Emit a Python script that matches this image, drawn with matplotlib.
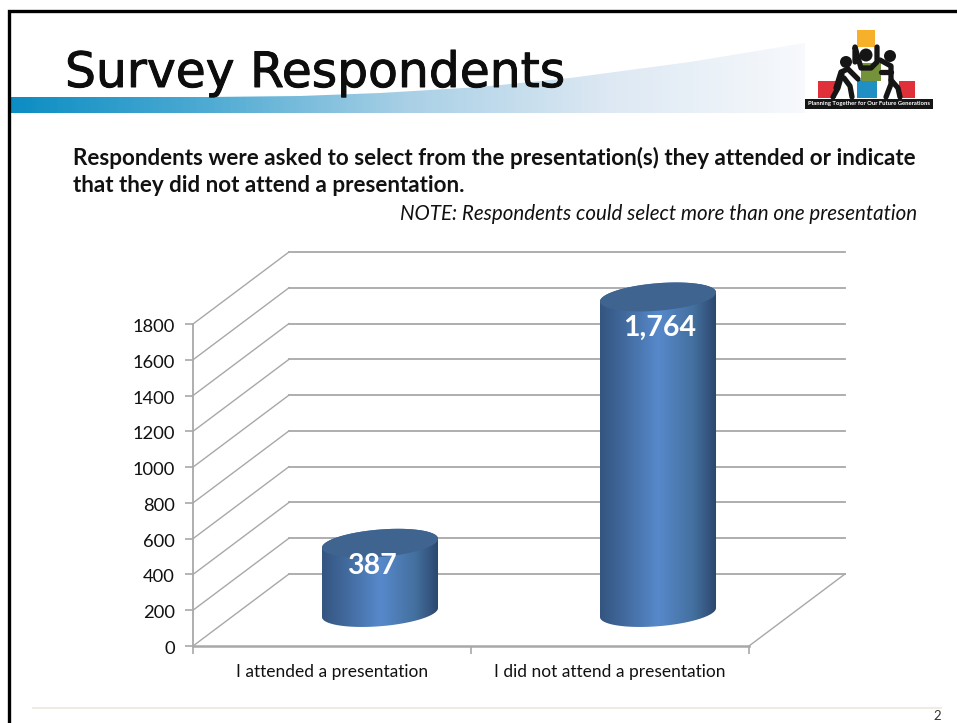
import numpy as np
import matplotlib
matplotlib.use('Agg')
import matplotlib.pyplot as plt
import matplotlib.patheffects as pe
from matplotlib.colors import LinearSegmentedColormap
from matplotlib.patches import Polygon, Rectangle, Circle
from matplotlib.path import Path
from matplotlib.transforms import Affine2D, IdentityTransform

plt.rcParams['font.family'] = ['Lato', 'DejaVu Sans']

categories = ['I attended a presentation', 'I did not attend a presentation']
values = [387, 1764]
value_labels = ['387', '1,764']
y_ticks = [0, 200, 400, 600, 800, 1000, 1200, 1400, 1600, 1800]

title = 'Survey Respondents'
intro = ['Respondents were asked to select from the presentation(s) they attended or indicate',
         'that they did not attend a presentation.']
note = 'NOTE: Respondents could select more than one presentation'

W, H = 957, 723
GREY = '#a8a8a8'

fig = plt.figure(figsize=(W / 100, H / 100), dpi=100, facecolor='white')

# slide furniture, in pixels from the top left
deco = fig.add_axes([0, 0, 1, 1])
deco.set_xlim(0, W)
deco.set_ylim(H, 0)
deco.axis('off')

deco.plot([9, 9, W], [H, 11, 11], color='black', lw=2.4, solid_joinstyle='miter')
deco.plot([33, 941], [708, 708], color='#eee9de', lw=1.3)
deco.text(937, 716, '2', fontsize=9.5, ha='center', va='center', color='#333333')

# title band fading out to the right, its top edge sweeps up towards the logo
band_cmap = LinearSegmentedColormap.from_list('band', ['#0b8dc3', '#4fabd3', '#a9d0e6', '#dce8f3', '#f7f9fc'])
band = deco.imshow(np.linspace(0, 1, 256).reshape(1, -1), cmap=band_cmap, aspect='auto',
                   extent=(10, 805, 113, 43), zorder=1)
band.set_clip_path(Polygon([(10, 97), (210, 97), (300, 96), (380, 93), (480, 87), (570, 78),
                            (690, 62), (805, 43), (805, 113), (10, 113)],
                           transform=deco.transData))
deco.set_xlim(0, W)
deco.set_ylim(H, 0)

deco.text(65, 87, title, fontsize=35.1, family=['DejaVu Sans'], color='#0d0d0d',
          va='baseline', ha='left', zorder=3,
          path_effects=[pe.withStroke(linewidth=0.7, foreground='#0d0d0d')])
for y, line in zip([158, 186], intro):
    deco.text(73, y, line, fontsize=16.1, fontweight='bold', va='center', color='#111111')
deco.text(917, 214, note, fontsize=14.8, style='italic', va='center', ha='right', color='#111111')

# logo: people stacking blocks
for x, y, w, h, c in [(818, 81, 18, 17, '#e0303a'), (899, 81, 16, 17, '#e0303a'),
                      (857, 80, 20, 18, '#1f8fc4'), (861, 63, 20, 18, '#74923a'),
                      (857, 30, 18, 17, '#f7b02a')]:
    deco.add_patch(Rectangle((x, y), w, h, facecolor=c, edgecolor='none', zorder=2))
deco.add_patch(Rectangle((805, 99), 128, 10, facecolor='#151515', edgecolor='none', zorder=3))
deco.text(869, 104, 'Planning Together for Our Future Generations', color='white', fontsize=4.2,
          fontweight='bold', ha='center', va='center', zorder=4)
for cx, cy, r in [(846, 62, 6), (866, 55, 6.5), (890, 56, 6)]:
    deco.add_patch(Circle((cx, cy), r, facecolor='#151515', edgecolor='none', zorder=3))
people = [
    ([858, 848, 841, 836], [79, 69, 72, 88]), ([842, 838, 833], [74, 88, 97]), ([844, 850, 852], [78, 86, 97]),
    ([855, 855, 861, 871, 877, 877], [62, 47, 68, 68, 62, 47]),
    ([880, 891, 891, 886], [60, 66, 84, 97]), ([891, 898, 900], [80, 88, 97]), ([881, 891], [72, 72]),
]
for xs, ys in people:
    deco.plot(xs, ys, color='#151515', lw=3.8, solid_capstyle='round', zorder=3)

# chart axes sit on the front plane of the 3D box
ax = fig.add_axes([193 / W, (H - 646) / H, 556 / W, 322 / H], facecolor='none')
ax.set_autoscale_on(False)
ax.set_xlim(0, 2)
ax.set_ylim(0, 1800)
for side in ['top', 'right']:
    ax.spines[side].set_visible(False)
for side in ['left', 'bottom']:
    ax.spines[side].set_color(GREY)
ax.spines['left'].set_linewidth(1.3)
ax.spines['bottom'].set_linewidth(1.8)

ax.set_yticks(y_ticks)
ax.tick_params(axis='y', length=6, width=1.2, color=GREY, labelsize=13.2, pad=7, labelcolor='#111111')
for lbl in ax.get_yticklabels():
    lbl.set_transform(lbl.get_transform() + Affine2D().translate(0, -1.5))
ax.set_xticks([0, 1, 2])
ax.set_xticklabels([])
ax.tick_params(axis='x', which='major', length=6, width=1.2, color=GREY)
ax.set_xticks([0.5, 1.5], minor=True)
ax.set_xticklabels(categories, minor=True, fontsize=12.5, color='#111111')
ax.tick_params(axis='x', which='minor', length=0, pad=13)

# back wall and side lines, pushed back from the front plane
back = ax.transData + Affine2D().translate(96, 72)
for v in y_ticks:
    ax.plot([0, 2], [v, v], transform=back, color=GREY, lw=1.3, clip_on=False, zorder=1)
    x0, y0 = ax.transData.transform((0, v))
    ax.plot([x0, x0 + 96], [y0, y0 + 72], transform=IdentityTransform(), color=GREY, lw=1.0, clip_on=False, zorder=1)
x0, y0 = ax.transData.transform((2, 0))
ax.plot([x0, x0 + 96], [y0, y0 + 72], transform=IdentityTransform(), color=GREY, lw=1.0, clip_on=False, zorder=1)

# cylinders stand halfway into the box
mid = ax.transData + Affine2D().translate(48, 33.5)
A, B, TILT = 58.2, 13.7, np.radians(4.7)
body_cmap = LinearSegmentedColormap.from_list('body', [(0, '#345580'), (0.2, '#41699c'), (0.5, '#5789cb'),
                                                       (0.8, '#44709f'), (1, '#2b466c')])


def ellipse(cx, cy, t):
    x = A * np.cos(t) * np.cos(TILT) - B * np.sin(t) * np.sin(TILT)
    y = A * np.cos(t) * np.sin(TILT) + B * np.sin(t) * np.cos(TILT)
    return np.column_stack([cx + x, cy + y])


t_left = np.arctan2(-B * np.sin(TILT), A * np.cos(TILT)) + np.pi
for i, v in enumerate(values):
    bx, by = mid.transform((i + 0.5, 0))
    tx, ty = mid.transform((i + 0.5, v))
    lower = ellipse(bx, by, np.linspace(t_left, t_left + np.pi, 80))
    upper = ellipse(tx, ty, np.linspace(t_left + np.pi, t_left + 2 * np.pi, 80))
    outline = Path(np.vstack([lower, upper, lower[:1]]), closed=True)

    im = ax.imshow(np.linspace(0, 1, 256).reshape(1, -1), cmap=body_cmap, aspect='auto',
                   extent=(bx - A, bx + A, by - B - 6, ty + B + 6), transform=IdentityTransform(), zorder=3)
    im.set_clip_box(fig.bbox)
    im.set_clip_path(outline, IdentityTransform())

    cap = Polygon(ellipse(tx, ty, np.linspace(0, 2 * np.pi, 160)), closed=True, facecolor='#3e648f',
                  edgecolor='none', transform=IdentityTransform(), zorder=4, clip_on=False)
    ax.add_patch(cap)

# value labels
label_shift = [(-8, -23), (2, -31)]
for i, (v, text) in enumerate(zip(values, value_labels)):
    ax.annotate(text, xy=(i + 0.5, v), xycoords=mid, xytext=label_shift[i], textcoords='offset pixels',
                ha='center', va='center', color='white', fontsize=20.5, fontweight='bold', zorder=5,
                annotation_clip=False)

ax.set_xlim(0, 2)
ax.set_ylim(0, 1800)

fig.savefig('out.png', dpi=100)
